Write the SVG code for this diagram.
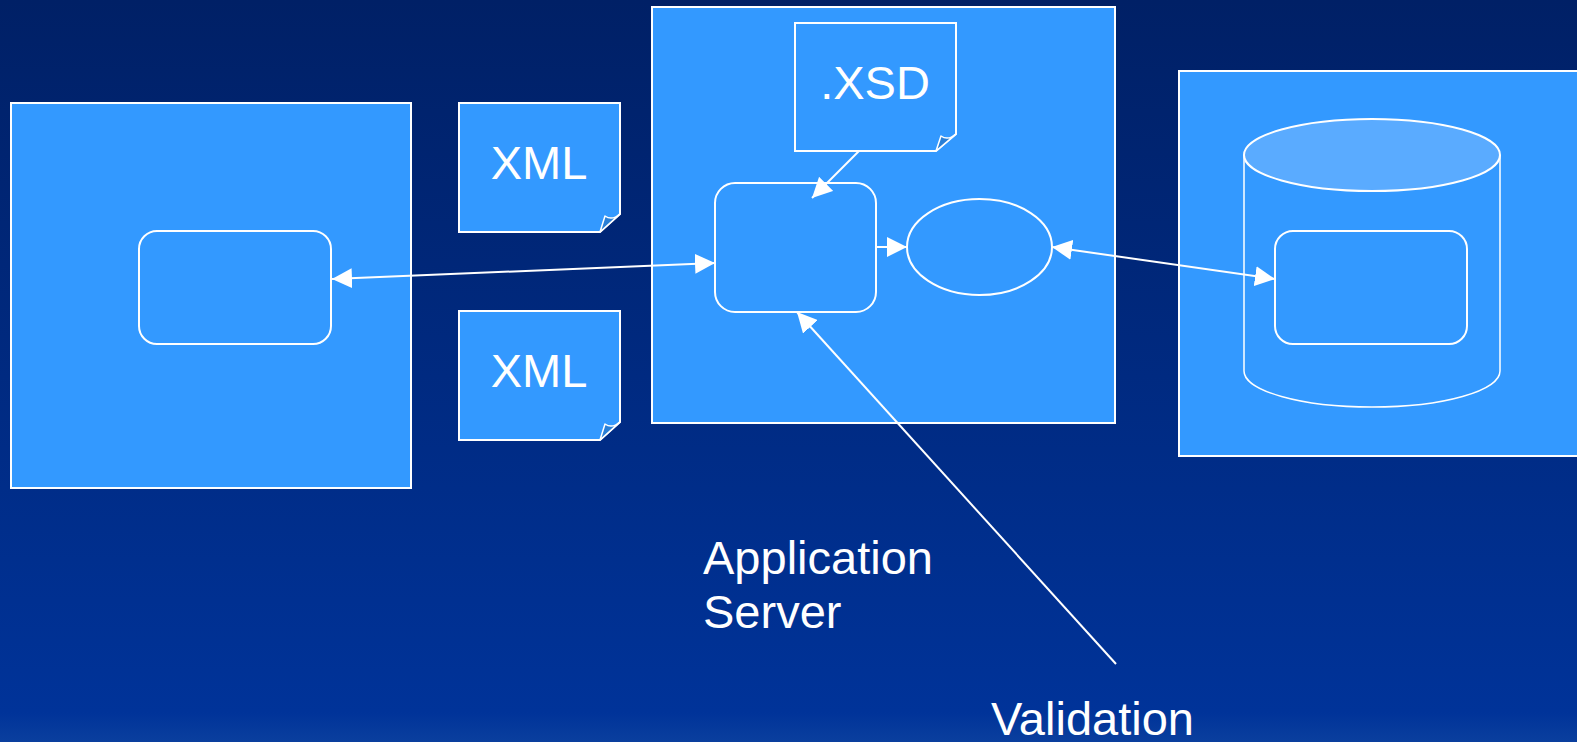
<svg xmlns="http://www.w3.org/2000/svg" width="1577" height="742" viewBox="0 0 1577 742">
<defs>
<linearGradient id="bg" x1="0" y1="0" x2="0" y2="1">
<stop offset="0" stop-color="#002066"/>
<stop offset="0.96" stop-color="#003399"/>
<stop offset="1" stop-color="#0a3f9e"/>
</linearGradient>
<marker id="ah" viewBox="0 0 20 20" refX="20" refY="10" markerWidth="20" markerHeight="20" markerUnits="userSpaceOnUse" orient="auto-start-reverse">
<path d="M0,0 L20,10 L0,20 Z" fill="#ffffff"/>
</marker>
<style>
.box{fill:#3399ff;stroke:#ffffff;stroke-width:2}
.thin{fill:#3399ff;stroke:#ffffff;stroke-width:1.5}
.curl{fill:#2a7fd6;stroke:#ffffff;stroke-width:1.5;stroke-linejoin:round}
.txt{font-family:"Liberation Sans",Arial,sans-serif;font-size:47px;fill:#ffffff}
.conn{fill:none;stroke:#ffffff;stroke-width:2}
</style>
</defs>
<rect x="0" y="0" width="1577" height="742" fill="url(#bg)"/>

<g id="client">
<rect class="box" x="11" y="103" width="400" height="385"/>
<rect class="box" x="139" y="231" width="192" height="113" rx="18"/>
</g>

<g id="xml1">
<path class="box" d="M459,103 H620 V214 L600,232 H459 Z"/>
<path class="curl" d="M620,214 Q612,221 605,216 L600,232 Z"/>
<text class="txt" x="539" y="179" text-anchor="middle">XML</text>
</g>

<g id="xml2">
<path class="box" d="M459,311 H620 V422 L600,440 H459 Z"/>
<path class="curl" d="M620,422 Q612,429 605,424 L600,440 Z"/>
<text class="txt" x="539" y="387" text-anchor="middle">XML</text>
</g>

<g id="appserver">
<rect class="box" x="652" y="7" width="463" height="416"/>
</g>

<g id="xsd">
<path class="box" d="M795,23 H956 V134 L936,151 H795 Z"/>
<path class="curl" d="M956,134 Q948,141 941,136 L936,151 Z"/>
<text class="txt" x="875" y="99" text-anchor="middle">.XSD</text>
</g>

<g id="validator">
<rect class="box" x="715" y="183" width="161" height="129" rx="20"/>
</g>

<g id="parser">
<ellipse class="box" cx="979.5" cy="247" rx="72.5" ry="48"/>
</g>

<g id="dbserver">
<rect class="box" x="1179" y="71" width="410" height="385"/>
</g>

<g id="database">
<path class="thin" d="M1244,155 V371 A128,36 0 0 0 1500,371 V155"/>
<ellipse cx="1372" cy="155" rx="128" ry="36" fill="#5aabff" stroke="#ffffff" stroke-width="2"/>
<rect class="box" x="1275" y="231" width="192" height="113" rx="18"/>
</g>

<g id="connectors">
<line class="conn" x1="332" y1="279" x2="715" y2="263" marker-start="url(#ah)" marker-end="url(#ah)"/>
<line class="conn" x1="859" y1="151" x2="812" y2="198" marker-end="url(#ah)"/>
<line class="conn" x1="876" y1="247" x2="907" y2="247" marker-end="url(#ah)"/>
<line class="conn" x1="1052" y1="247" x2="1275" y2="279" marker-start="url(#ah)" marker-end="url(#ah)"/>
<line class="conn" x1="1116" y1="664" x2="797" y2="312" stroke-width="1.5" marker-end="url(#ah)"/>
</g>

<g id="labels">
<text class="txt" x="703" y="574">Application</text>
<text class="txt" x="703" y="628">Server</text>
<text class="txt" x="991" y="735">Validation</text>
</g>
</svg>
